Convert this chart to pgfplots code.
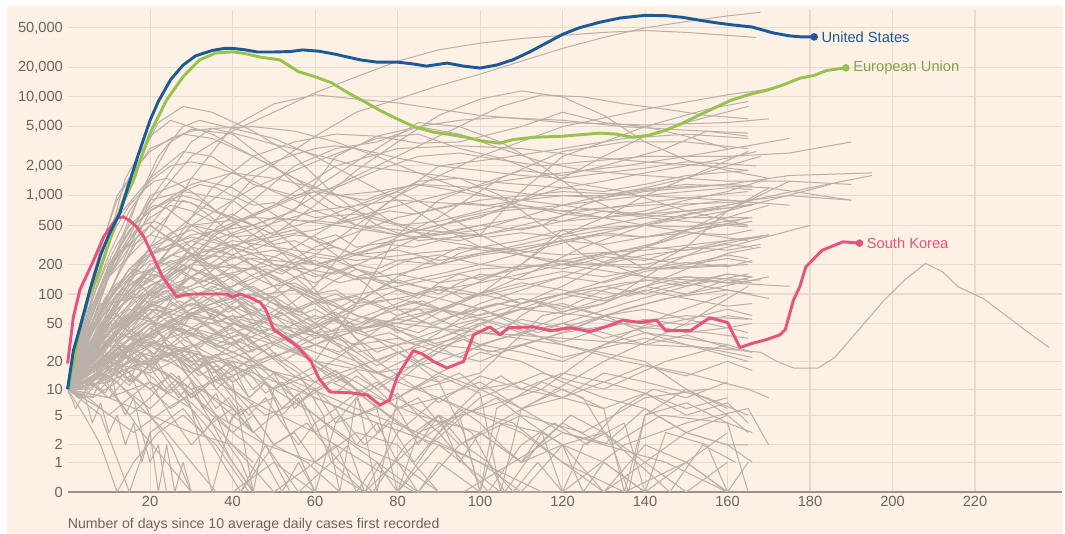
\documentclass[border=0pt]{standalone}
\usepackage{pgfplots}
\pgfplotsset{compat=1.18}
\usepackage{fontspec}
\setmainfont{Liberation Sans}
\definecolor{cream}{HTML}{FDF0E5}
\definecolor{gridc}{HTML}{E8DACE}
\definecolor{grayl}{HTML}{B9B0A9}
\definecolor{usblue}{HTML}{1C5A96}
\definecolor{eugreen}{HTML}{98C24E}
\definecolor{skpink}{HTML}{E8527E}
\definecolor{ticktxt}{HTML}{6B6560}
\definecolor{axisc}{HTML}{9A928C}
\pgfplotsset{gl/.style={color=grayl, line width=0.75pt, no markers, line join=round}}
\begin{document}
\begin{tikzpicture}[x=1pt,y=1pt]
\fill[white] (0,0) rectangle (798.75,399.75);
\fill[cream] (5.25,0) rectangle (797,395.25);
\begin{axis}[
  at={(50.7pt,30.75pt)}, anchor=south west,
  scale only axis, width=745.5pt, height=361.5pt,
  xmin=0, xmax=241, ymin=0, ymax=4.88,
  y filter/.expression={ln(y+1)*0.4342944819},
  axis x line*=bottom, axis y line*=left,
  x axis line style={draw=axisc, line width=1.1pt, -},
  y axis line style={draw=none},
  major tick length=0pt,
  xtick={20,40,...,220},
  ytick={0,0.30103,0.47712,0.77815,1.04139,1.32222,1.70757,2.00432,2.30320,2.69984,3.00043,3.30125,3.69906,4.00004,4.30105,4.69898},
  yticklabels={0,1,2,5,10,20,50,100,200,500,{1,000},{2,000},{5,000},{10,000},{20,000},{50,000}},
  /pgf/number format/assume math mode=true,
  tick label style={font=\fontsize{11}{13}\selectfont, text=ticktxt},
  xmajorgrids, ymajorgrids,
  major grid style={draw=gridc, line width=0.8pt},
  clip=false,
]
% ---- grey country lines ----
\addplot[gl] coordinates {(0,10)(10,150)(20,800)(30,2500)(40,4500)(50,7000)(60,11000)(70,16000)(80,23000)(90,30000)(100,35000)(110,39000)(120,42000)(130,45000)(140,47000)(150,45000)(160,42000)(167,40000)};
\addplot[gl] coordinates {(0,10)(15,60)(30,300)(45,1500)(60,4000)(70,7000)(80,9500)(90,13000)(100,17000)(110,23000)(120,31000)(130,40000)(140,50000)(150,58000)(160,66000)(168,72000)};
\addplot[gl] coordinates {(0,10)(10,60)(20,300)(30,1500)(40,5000)(50,8500)(60,10500)(70,9500)(80,8700)(90,7500)(100,6500)(110,6000)(120,5500)(140,5200)(160,5500)(170,6000)};
\addplot[gl] coordinates {(0,10)(10,100)(20,900)(30,3500)(35,4800)(45,5000)(55,4500)(65,3500)(75,2500)(85,1700)(95,1200)(110,800)(120,650)(130,600)(140,700)(150,900)(160,1100)(170,1500)};
\addplot[gl] coordinates {(0,12)(8,100)(15,600)(22,2500)(28,5000)(32,5800)(40,4800)(50,3800)(60,2500)(70,1500)(80,900)(90,500)(100,300)(110,250)(120,200)(130,250)(145,350)(160,700)(175,1400)(190,1300)};
\addplot[gl] coordinates {(0,10)(8,200)(15,1500)(22,5500)(28,8000)(35,7000)(45,4500)(55,2500)(65,1000)(75,500)(85,350)(100,400)(110,1100)(120,2500)(130,3500)(140,5000)(155,7500)(165,9000)};
\addplot[gl] coordinates {(0,10)(7,120)(14,1500)(20,4000)(25,5800)(35,4200)(45,2500)(55,1500)(65,800)(75,600)(85,450)(100,400)(115,500)(125,800)(135,1100)(150,1300)(170,1200)(190,900)};
\addplot[gl] coordinates {(0,10)(10,150)(17,900)(25,3500)(30,4700)(40,4200)(50,2000)(60,900)(70,500)(80,400)(90,500)(100,600)(110,900)(120,1500)(130,2500)(140,4000)(150,5500)(165,8000)};
\addplot[gl] coordinates {(0,10)(5,80)(12,600)(20,1500)(28,2800)(35,2500)(45,1300)(55,1000)(65,1200)(75,1800)(85,2500)(95,2700)(105,2300)(115,2000)(125,2200)(140,2500)(160,2500)(175,2700)(190,3500)};
\addplot[gl] coordinates {(0,10)(15,40)(30,300)(45,900)(55,2000)(65,3000)(75,3500)(85,5000)(95,5800)(105,6200)(120,5800)(135,5000)(150,4600)(165,4300)};
\addplot[gl] coordinates {(0,10)(15,80)(25,300)(35,1200)(45,2500)(55,3500)(65,4200)(75,4000)(85,3400)(95,3500)(110,5000)(120,7000)(130,5500)(140,5000)(150,4000)(160,3000)};
\addplot[gl] coordinates {(0,10)(15,40)(30,150)(45,400)(60,1000)(75,2000)(90,4000)(105,8000)(115,10500)(125,10000)(135,8500)(145,7500)(155,6500)(165,6000)};
\addplot[gl] coordinates {(0,10)(10,80)(20,100)(30,120)(40,250)(50,400)(60,800)(70,1800)(80,3500)(90,6500)(100,9500)(110,11500)(120,10000)(130,6500)(140,3500)(150,2300)(160,1800)(170,1500)};
\addplot[gl] coordinates {(0,10)(20,80)(40,120)(60,250)(80,1000)(100,2500)(120,5000)(140,7500)(160,10500)(170,12000)};
\addplot[gl] coordinates {(0,10)(10,100)(20,250)(30,400)(45,500)(55,700)(65,2500)(75,4000)(85,5000)(95,4200)(105,3000)(115,2200)(125,1800)(140,1600)(160,1400)(175,1400)};
\addplot[gl] coordinates {(0,10)(6,150)(12,1000)(20,3000)(28,4200)(35,3800)(45,2500)(55,1500)(65,1000)(75,1100)(85,1300)(100,1200)(115,1000)(130,1000)(145,1200)(160,1300)(175,1600)(195,1700)};
\addplot[gl] coordinates {(0,10)(10,100)(20,700)(30,1300)(40,1700)(50,1500)(60,1200)(70,900)(80,500)(90,350)(100,300)(110,350)(120,450)(140,500)(160,800)(180,1200)(195,1600)};
\addplot[gl] coordinates {(0,10)(10,150)(20,1000)(30,1500)(40,1200)(50,650)(60,350)(70,180)(80,110)(90,90)(110,200)(120,450)(130,300)(140,180)(150,300)(160,700)(170,1200)};
\addplot[gl] coordinates {(0,10)(10,200)(20,900)(28,1100)(40,900)(50,450)(60,200)(70,150)(80,70)(90,70)(100,100)(110,200)(120,400)(130,600)(140,1000)(150,1500)(165,2800)};
\addplot[gl] coordinates {(0,10)(15,100)(30,500)(45,1200)(60,2200)(75,3800)(85,4200)(95,3000)(105,2400)(120,1400)(135,1100)(150,700)(165,500)};
\addplot[gl] coordinates {(0,10)(15,120)(30,350)(45,650)(60,1200)(75,3000)(85,5500)(95,5000)(105,3500)(115,2000)(125,1000)(135,650)(150,600)(165,600)};
\addplot[gl] coordinates {(0,10)(20,40)(35,400)(50,800)(65,2000)(80,3000)(95,3200)(110,3000)(125,2500)(140,2200)(155,2000)(165,1800)};
\addplot[gl] coordinates {(0,10)(15,100)(30,250)(45,350)(60,450)(75,700)(90,1000)(105,1400)(120,1700)(135,2000)(150,2500)(165,3200)(175,3800)};
\addplot[gl] coordinates {(0,10)(15,150)(30,250)(45,230)(60,200)(75,300)(90,600)(105,1500)(120,2800)(135,3500)(150,3500)(165,3000)};
\addplot[gl] coordinates {(0,10)(10,200)(20,500)(30,250)(40,100)(50,30)(60,20)(70,80)(80,400)(90,900)(100,1300)(110,1800)(120,1600)(130,2000)(145,3000)(155,4500)(165,4000)};
\addplot[gl] coordinates {(0,10)(15,100)(30,500)(45,600)(60,550)(70,800)(80,1100)(90,700)(100,400)(110,250)(120,200)(140,200)(160,300)(180,500)};
\addplot[gl] coordinates {(0,10)(10,150)(20,400)(28,900)(35,700)(45,500)(55,200)(65,60)(75,20)(85,10)(100,15)(115,60)(130,80)(145,200)(155,300)(170,400)};
\addplot[gl] coordinates {(0,10)(20,50)(40,150)(55,300)(70,700)(85,1400)(95,1500)(105,1000)(115,500)(125,250)(140,150)(160,130)(175,120)};
\addplot[gl] coordinates {(0,10)(20,50)(40,30)(60,120)(75,700)(90,2000)(105,2400)(120,3000)(135,3800)(150,4200)(165,3800)};
\addplot[gl] coordinates {(0,10)(10,60)(20,200)(30,300)(40,250)(55,120)(70,60)(85,40)(100,80)(120,150)(140,300)(165,600)};
\addplot[gl] coordinates {(0,10)(10,30)(20,100)(35,350)(50,600)(65,500)(80,400)(95,350)(110,500)(125,700)(145,900)(165,1100)};
\addplot[gl] coordinates {(0,10)(8,50)(18,150)(30,90)(45,40)(60,20)(75,15)(90,30)(105,60)(120,100)(140,180)(160,200)};
\addplot[gl] coordinates {(0,10)(12,80)(25,200)(40,350)(55,280)(70,220)(85,260)(100,300)(120,250)(140,280)(160,350)(170,400)};
\addplot[gl] coordinates {(0,10)(5,40)(15,180)(25,140)(35,60)(45,20)(55,8)(65,3)(75,1)(85,0)(95,2)(110,5)(125,3)(140,8)(155,10)};
\addplot[gl] coordinates {(0,10)(10,70)(20,300)(30,450)(40,300)(50,120)(60,50)(70,20)(80,8)(90,4)(100,6)(115,10)(130,30)(145,60)(160,100)};
\addplot[gl] coordinates {(0,10)(15,20)(30,60)(45,100)(60,180)(75,350)(90,500)(105,700)(120,800)(140,600)(160,500)(165,480)};
\addplot[gl] coordinates {(0,10)(10,35)(20,80)(35,150)(50,200)(65,160)(80,300)(95,600)(110,800)(125,650)(140,500)(155,400)(165,350)};
\addplot[gl] coordinates {(0,10)(5,50)(12,250)(20,500)(28,300)(38,120)(50,50)(60,20)(70,10)(85,5)(100,3)(115,8)(130,20)(150,50)(165,120)};
\addplot[gl] coordinates {(0,10)(20,40)(40,100)(60,300)(80,600)(100,900)(120,1100)(140,1000)(160,900)(175,800)};
\addplot[gl] coordinates {(0,10)(10,50)(20,120)(30,200)(45,180)(60,90)(75,50)(90,30)(105,25)(120,40)(135,70)(150,100)(170,150)};
\addplot[gl] coordinates {(0,10)(8,30)(20,70)(35,50)(50,30)(65,60)(80,150)(95,300)(110,250)(125,200)(145,180)(165,200)};
\addplot[gl] coordinates {(0,10)(12,100)(25,250)(35,200)(50,80)(65,40)(80,50)(95,80)(110,150)(125,300)(140,500)(160,700)(185,1300)};
\addplot[gl] coordinates {(0,10)(20,100)(40,400)(60,700)(80,900)(100,800)(120,700)(140,800)(160,850)(175,1000)(190,900)};
\addplot[gl] coordinates {(0,10)(5,20)(10,30)(15,15)(20,5)(25,2)(30,0)(40,0)(50,1)(60,0)};
\addplot[gl] coordinates {(0,10)(8,15)(15,30)(22,40)(30,20)(38,8)(45,3)};
\addplot[gl] coordinates {(0,10)(5,25)(12,50)(20,70)(28,40)(36,15)(44,6)(50,2)(58,1)(66,0)(80,0)(90,3)(100,8)(115,15)(130,10)(145,20)(160,30)};
\addplot[gl] coordinates {(0,9)(6,12)(12,20)(18,35)(26,50)(34,30)(42,20)(50,10)(60,5)(70,2)(80,1)(90,0)};
\addplot[gl] coordinates {(0,10)(4,5)(8,2)(12,0)(16,1)(22,3)(28,5)(36,2)(44,0)};
\addplot[gl] coordinates {(0,10)(10,20)(20,40)(30,70)(40,90)(50,60)(60,40)(70,25)(80,30)(95,50)(110,70)(125,60)(140,45)(155,40)(165,35)};
\addplot[gl] coordinates {(0,10)(10,15)(20,25)(30,15)(40,30)(50,45)(60,30)(70,20)(80,12)(90,8)(100,5)(110,3)(120,1)(130,0)(140,2)(150,1)(160,0)};
\addplot[gl] coordinates {(0,11)(5,30)(10,60)(15,40)(20,25)(25,12)(30,6)(35,3)(40,1)(45,0)};
\addplot[gl] coordinates {(0,10)(15,30)(30,60)(45,45)(60,25)(75,15)(90,20)(105,35)(120,50)(135,80)(150,120)(165,160)};
\addplot[gl] coordinates {(0,10)(8,20)(16,12)(24,30)(32,25)(40,10)(48,5)(56,7)(64,12)(72,8)(80,4)(88,2)(96,5)(104,8)(112,4)(120,2)(130,3)(140,1)(150,0)(160,1)};
\addplot[gl] coordinates {(0,10)(6,8)(12,12)(18,6)(24,3)(30,1)(36,0)(42,0)(48,2)(54,0)};
\addplot[gl] coordinates {(0,10)(10,40)(20,100)(30,150)(40,110)(50,70)(60,40)(70,30)(80,35)(90,25)(100,20)(110,30)(120,40)(135,50)(150,60)(165,55)};
\addplot[gl] coordinates {(0,10)(10,25)(20,18)(30,10)(40,14)(50,22)(60,35)(70,55)(80,80)(90,120)(100,100)(110,80)(120,100)(135,130)(150,150)(165,140)};
\addplot[gl] coordinates {(0,10)(12,40)(24,25)(36,12)(48,6)(60,3)(72,1)(84,0)(96,0)(108,1)(120,3)(132,2)(144,5)(160,4)(166,3)};
\addplot[gl] coordinates {(0,10)(5,18)(10,10)(15,5)(20,8)(25,15)(30,10)(35,4)(40,1)(45,0)(50,0)};
\addplot[gl] coordinates {(0,10)(20,30)(40,20)(60,12)(80,25)(100,40)(120,30)(140,20)(150,10)(160,5)(165,3)};
\addplot[gl] coordinates {(0,10)(10,30)(20,55)(30,80)(40,55)(50,35)(60,20)(70,12)(80,6)(90,8)(100,12)(110,6)(120,3)(130,2)(145,1)(160,0)};
\addplot[gl] coordinates {(0,10)(6,20)(12,8)(18,3)(24,1)(30,0)};
\addplot[gl] coordinates {(0,10)(10,12)(20,20)(30,30)(40,18)(50,10)(60,15)(70,30)(80,60)(90,90)(100,70)(110,50)(120,40)(130,60)(145,90)(160,110)(166,100)};
\addplot[gl] coordinates {(0,10)(15,35)(30,25)(45,15)(60,8)(75,4)(90,2)(105,0)(120,0)(135,2)(150,4)(165,6)(170,2)};
\addplot[gl] coordinates {(0,10)(5,15)(10,20)(15,12)(20,18)(25,25)(30,15)(35,8)(40,5)(45,3)};
\addplot[gl] coordinates {(0,10)(10,50)(20,35)(30,20)(40,25)(50,40)(60,60)(70,45)(80,25)(90,15)(100,10)(110,6)(120,8)(130,15)(140,12)(155,8)(165,5)};
\addplot[gl] coordinates {(0,10)(8,6)(16,3)(24,6)(32,10)(40,6)(48,2)(56,0)(64,1)(72,0)};
\addplot[gl] coordinates {(0,10)(12,25)(24,15)(36,5)(48,2)(60,1)(72,0)(84,2)(96,6)(108,4)(120,1)(135,0)(150,1)(160,3)};
\addplot[gl] coordinates {(0,10)(10,20)(25,45)(40,25)(55,12)(70,6)(85,3)(100,1)(115,0)};
\addplot[gl] coordinates {(0,10)(5,30)(10,45)(15,25)(20,12)(25,5)(30,2)(35,4)(40,2)(45,1)};
\addplot[gl] coordinates {(0,10)(20,20)(40,40)(60,80)(80,120)(100,180)(120,200)(140,150)(160,110)(170,90)};
\addplot[gl] coordinates {(0,10)(15,60)(30,40)(45,20)(60,30)(75,50)(90,70)(105,50)(120,30)(135,20)(150,15)(165,10)(170,8)};
\addplot[gl] coordinates {(0,10)(10,8)(20,5)(30,3)(40,2)(50,0)(60,1)(70,3)(80,2)(90,0)};
\addplot[gl] coordinates {(0,10)(8,25)(16,60)(24,90)(32,120)(40,90)(48,50)(56,30)};
\addplot[gl] coordinates {(0,10)(10,40)(20,80)(30,60)(40,30)(50,15)(60,8)(70,5)(80,8)(90,15)(100,25)(110,20)(120,12)(130,8)(140,6)(150,3)(160,2)(165,2)};
\addplot[gl] coordinates {(0,10)(10,100)(20,250)(30,350)(40,250)(50,150)(60,80)(70,40)(80,30)(90,35)(100,50)(110,70)(120,80)(130,60)(140,40)(150,30)(165,20)};
\addplot[gl] coordinates {(0,10)(20,30)(40,60)(60,40)(80,50)(100,40)(120,35)(140,30)(155,28)(168,25)(172,20)(176,17)(182,17)(186,22)(190,35)(194,55)(198,87)(203,140)(208,205)(212,170)(216,118)(222,90)(228,58)(233,40)(238,28)};
\addplot[gl] coordinates {(0,10)(3,14)(6,22)(9,35)(12,48)(15,60)(18,55)(21,70)(24,65)(27,50)(30,45)(33,52)(36,40)(39,35)(42,38)(45,30)};
\addplot[gl] coordinates {(0,10)(3,18)(6,30)(9,25)(12,40)(15,35)(18,28)(21,33)(24,22)(27,26)(30,18)(33,22)(36,15)(39,20)(42,14)(45,17)};
\addplot[gl] coordinates {(0,10)(4,25)(8,45)(12,80)(16,120)(20,180)(24,150)(28,200)(32,170)(36,140)(40,160)(44,120)(48,100)(55,110)(62,80)(70,95)(78,70)(86,85)(94,60)(102,75)(110,90)(120,70)(130,110)(140,140)(150,120)(160,160)(165,150)};
\addplot[gl] coordinates {(0,10)(3,12)(6,8)(9,15)(12,20)(15,12)(18,25)(21,18)(24,30)(27,22)(30,15)(33,20)(36,10)(40,14)(44,8)(48,12)(52,6)(56,9)(60,4)(65,6)(70,2)(75,4)(80,1)(85,0)(90,1)(100,0)};
\addplot[gl] coordinates {(0,10)(5,40)(10,90)(15,160)(20,300)(25,420)(30,500)(35,450)(40,380)(45,400)(50,320)(55,350)(60,280)(65,300)(70,250)(80,280)(90,220)(100,260)(110,300)(120,350)(130,420)(140,380)(150,450)(160,520)(165,500)};
\addplot[gl] coordinates {(0,10)(4,30)(8,70)(12,150)(16,300)(20,500)(24,800)(28,1100)(32,1300)(36,1200)(40,1000)(45,800)(50,850)(55,700)(60,600)(70,650)(80,500)(90,550)(100,700)(110,900)(120,1200)(130,1100)(140,1300)(150,1600)(165,1800)};
\addplot[gl] coordinates {(0,10)(5,20)(10,12)(15,30)(20,20)(25,40)(30,25)(35,15)(40,20)(45,10)(50,15)(55,6)(60,10)(65,4)(70,8)(75,3)(80,6)(85,2)(90,5)(95,1)(100,3)(110,1)(120,4)(130,2)(140,6)(150,3)(160,5)};
\addplot[gl] coordinates {(0,10)(3,20)(6,40)(9,70)(12,100)(15,140)(18,120)(21,90)(24,110)(27,80)(30,60)(33,70)(36,50)(40,60)(45,40)(50,45)(55,30)(60,40)(65,55)(70,70)(75,90)(80,110)(85,90)(90,130)(95,160)(100,140)(110,200)(120,180)(130,240)(140,220)(150,300)(160,280)(168,320)};
\addplot[gl] coordinates {(0,10)(5,60)(10,200)(15,450)(20,700)(25,900)(30,850)(35,600)(40,400)(45,300)(50,200)(55,150)(60,100)(65,80)(70,60)(80,50)(90,70)(100,60)(110,80)(120,120)(130,200)(140,300)(150,450)(160,600)(170,800)};
\addplot[gl] coordinates {(0,10)(2,6)(4,9)(6,4)(8,7)(10,3)(12,5)(14,2)(16,4)(18,1)(20,3)(22,0)(24,2)(26,0)(28,1)(30,0)};
\addplot[gl] coordinates {(0,10)(4,15)(8,25)(12,18)(16,30)(20,45)(24,35)(28,55)(32,70)(36,60)(40,80)(44,100)(48,90)(52,120)(56,150)(60,130)(65,170)(70,200)(75,180)(80,220)(90,250)(100,200)(110,180)(120,220)(130,260)(140,230)(150,200)(160,250)(165,230)};
\addplot[gl] coordinates {(0,10)(4,35)(8,80)(12,60)(16,40)(20,55)(24,30)(28,20)(32,25)(36,12)(40,18)(44,8)(48,12)(52,5)(56,8)(60,3)(66,5)(72,2)(78,4)(84,1)(90,3)(96,1)(102,0)(110,2)(118,4)(126,2)(134,6)(142,10)(150,8)(160,12)};
\addplot[gl] coordinates {(0,10)(5,15)(10,25)(15,50)(20,90)(25,130)(30,200)(35,250)(40,320)(45,280)(50,350)(55,400)(60,380)(65,300)(70,250)(75,300)(80,350)(90,400)(100,500)(110,450)(120,550)(130,600)(140,650)(150,700)(160,750)(166,800)};
\addplot[gl] coordinates {(0,10)(3,25)(6,50)(9,90)(12,130)(15,100)(18,70)(21,50)(24,30)(27,20)(30,12)(33,8)(36,5)(40,3)(44,2)(48,1)(52,0)(56,1)(60,0)};
\addplot[gl] coordinates {(0,10)(4,20)(8,28)(12,40)(16,35)(20,50)(24,45)(28,35)(32,40)(36,28)(40,32)(44,25)(48,30)(52,20)(56,25)(60,30)(66,25)(72,35)(78,40)(84,30)(90,35)(96,45)(102,40)(110,55)(120,45)(130,60)(140,50)(150,40)(160,45)(165,40)};
\addplot[gl] coordinates {(0,10)(5,50)(10,150)(15,300)(20,400)(25,350)(30,250)(35,180)(40,200)(45,150)(50,120)(55,130)(60,100)(65,110)(70,80)(80,90)(90,70)(100,100)(110,130)(120,110)(130,90)(140,120)(150,150)(160,130)(168,140)};
\addplot[gl] coordinates {(0,10)(3,8)(6,12)(9,18)(12,14)(15,22)(18,30)(21,24)(24,35)(27,45)(30,38)(33,50)(36,42)(39,30)(42,35)(45,25)};
\addplot[gl] coordinates {(0,10)(3,15)(6,12)(9,20)(12,28)(15,22)(18,15)(21,20)(24,12)(27,8)(30,12)(33,6)(36,9)(39,4)(42,6)(45,3)};
\addplot[gl] coordinates {(0,10)(5,70)(10,250)(15,700)(20,1400)(25,2000)(30,2200)(35,2000)(40,1700)(45,1400)(50,1100)(55,900)(60,700)(65,600)(70,500)(80,450)(90,400)(100,450)(110,600)(120,800)(130,1000)(140,1200)(150,1500)(160,2000)(168,2500)};
\addplot[gl] coordinates {(0,10)(4,20)(8,45)(12,70)(16,100)(20,90)(24,130)(28,110)(32,80)(36,100)(40,70)(44,85)(48,55)(52,65)(56,45)(60,35)(65,40)(70,28)(75,20)(80,25)(85,18)(90,12)(95,15)(100,10)(110,12)(120,8)(130,6)(140,9)(150,5)(160,7)(165,4)};
\addplot[gl] coordinates {(0,10)(5,25)(10,40)(15,60)(20,85)(25,110)(30,150)(35,190)(40,230)(45,260)(50,240)(55,200)(60,220)(65,180)(70,150)(75,170)(80,130)(90,110)(100,130)(110,160)(120,200)(130,260)(140,300)(150,280)(160,350)(168,380)};
\addplot[gl] coordinates {(0,10)(6,20)(12,45)(18,90)(24,160)(30,250)(36,400)(42,550)(48,700)(54,900)(60,1100)(66,1000)(72,900)(78,1100)(84,1300)(90,1200)(100,1000)(110,900)(120,800)(130,900)(140,1000)(150,1100)(160,1200)(166,1150)};
\addplot[gl] coordinates {(0,10)(2,15)(4,25)(6,20)(8,12)(10,18)(12,8)(14,5)(16,8)(18,3)(20,1)(22,2)(24,0)};
\addplot[gl] coordinates {(0,10)(3,20)(6,35)(9,45)(12,30)(15,20)(18,25)(21,15)(24,10)(27,14)(30,6)(33,3)(36,5)(39,2)(42,1)(45,0)};
\addplot[gl] coordinates {(0,10)(5,30)(10,60)(15,110)(20,170)(25,220)(30,180)(35,140)(40,100)(45,120)(50,90)(55,60)(60,45)(65,55)(70,35)(75,25)(80,30)(85,20)(90,25)(95,35)(100,50)(105,40)(110,60)(115,80)(120,65)(130,90)(140,120)(150,100)(160,140)(166,130)};
\addplot[gl] coordinates {(0,10)(4,12)(8,10)(12,16)(16,22)(20,18)(24,26)(28,34)(32,28)(36,40)(40,50)(44,42)(48,60)(52,75)(56,65)(60,85)(65,100)(70,80)(75,110)(80,140)(85,120)(90,100)(95,130)(100,160)(110,140)(120,170)(130,150)(140,180)(150,210)(160,190)(166,220)};
\addplot[gl] coordinates {(0,10)(4,40)(8,120)(12,280)(16,500)(20,700)(24,900)(28,1000)(32,900)(36,700)(40,600)(45,500)(50,400)(55,450)(60,350)(65,300)(70,250)(80,220)(90,200)(100,250)(110,280)(120,350)(130,400)(140,380)(150,450)(160,500)(166,550)};
\addplot[gl] coordinates {(0,10)(5,8)(10,5)(15,8)(20,12)(25,9)(30,15)(35,20)(40,14)(45,18)(50,25)(55,18)(60,12)(65,16)(70,10)(75,6)(80,9)(85,5)(90,3)(95,6)(100,4)(105,2)(110,1)(115,3)(120,2)(125,0)(130,1)(140,0)};
\addplot[gl] coordinates {(0,10)(5,20)(10,35)(15,28)(20,45)(25,60)(30,80)(35,70)(40,55)(45,65)(50,50)(55,40)(60,50)(65,70)(70,90)(75,75)(80,60)(85,70)(90,55)(95,45)(100,55)(110,40)(120,50)(130,35)(140,45)(150,55)(160,70)(166,60)};
\addplot[gl] coordinates {(0,10)(3,30)(6,70)(9,140)(12,250)(15,380)(18,500)(21,550)(24,480)(27,380)(30,300)(33,220)(36,180)(40,140)(44,110)(48,90)(52,70)(56,55)(60,40)(65,30)(70,22)(75,15)(80,12)(85,18)(90,25)(95,35)(100,30)(110,40)(120,60)(130,80)(140,120)(150,180)(160,260)(168,300)};
\addplot[gl] coordinates {(0,10)(5,12)(10,20)(15,15)(20,10)(25,14)(30,8)(35,12)(40,16)(45,22)(50,30)(55,38)(60,45)(65,55)(70,48)(75,60)(80,70)(85,55)(90,45)(95,38)(100,30)(110,25)(120,20)(130,30)(140,40)(150,35)(160,30)(166,25)};
\addplot[gl] coordinates {(0,10)(4,15)(8,25)(12,40)(16,55)(20,75)(24,90)(28,70)(32,55)(36,60)(40,45)(44,35)(48,25)};
\addplot[gl] coordinates {(0,10)(4,20)(8,15)(12,25)(16,40)(20,30)(24,22)(28,28)(32,18)(36,24)(40,16)(44,20)(48,12)};
\addplot[gl] coordinates {(0,10)(4,60)(8,300)(12,900)(16,1800)(20,2800)(25,3800)(30,4500)(35,4800)(40,4300)(45,3800)(50,3300)(55,3000)(60,2600)(65,2300)(70,2000)(80,1800)(90,1600)(100,1400)(110,1300)(120,1200)(130,1400)(140,1700)(150,2000)(160,2400)(167,2800)};
\addplot[gl] coordinates {(0,10)(5,25)(10,60)(15,130)(20,250)(25,400)(30,600)(35,900)(40,1300)(45,1800)(50,2200)(55,2600)(60,3000)(65,3200)(70,3000)(75,2700)(80,2400)(90,2000)(100,1800)(110,1600)(120,1500)(130,1700)(140,1900)(150,2200)(160,2100)(167,2000)};
\addplot[gl] coordinates {(0,10)(6,40)(12,100)(18,90)(24,60)(30,45)(36,30)(42,40)(48,25)(54,15)(60,10)(66,14)(72,8)(78,5)(84,3)(90,5)(96,2)(102,1)(108,0)(114,1)(120,0)};
\addplot[gl] coordinates {(0,10)(8,12)(16,18)(24,25)(32,18)(40,22)(48,30)(56,40)(64,35)(72,45)(80,55)(88,50)(96,65)(104,80)(112,70)(120,90)(128,110)(136,95)(144,120)(152,140)(160,130)(166,150)};
\addplot[gl] coordinates {(0,10)(6,25)(12,20)(18,35)(24,28)(30,45)(36,38)(42,55)(48,45)(54,35)(60,45)(66,60)(72,50)(78,70)(84,85)(90,70)(96,55)(102,65)(108,50)(114,40)(120,50)(130,40)(140,30)(150,38)(160,28)(166,25)};
\addplot[gl] coordinates {(0,10)(5,10)(10,14)(15,9)(20,6)(25,10)(30,7)(35,4)(40,6)(45,3)(50,5)(55,8)(60,12)(65,9)(70,14)(75,10)(80,6)(85,8)(90,4)(95,2)(100,3)(110,1)(120,2)(130,0)(140,1)(150,3)(160,2)(166,1)};
\addplot[gl] coordinates {(0,10)(5,35)(10,90)(15,180)(20,260)(25,320)(30,380)(35,340)(40,300)(45,260)(50,280)(55,240)(60,200)(65,220)(70,180)(75,150)(80,160)(90,130)(100,150)(110,180)(120,220)(130,200)(140,250)(150,280)(160,320)(166,300)};
\addplot[gl] coordinates {(0,10)(10,8)(20,12)(30,6)(35,0)(40,5)(50,8)(55,2)(60,0)(65,4)(75,6)(80,0)(85,3)(95,5)(100,0)(105,4)(115,3)(120,0)(125,2)(135,4)(140,0)(145,3)(155,2)(160,0)(165,1)};
\addplot[gl] coordinates {(0,10)(10,20)(20,15)(30,25)(40,12)(45,0)(50,10)(60,18)(70,10)(75,0)(80,8)(90,14)(100,9)(105,0)(110,6)(120,10)(130,6)(135,0)(140,5)(150,7)(160,4)(165,0)};
\addplot[gl] coordinates {(0,10)(8,5)(15,0)(20,3)(28,6)(35,2)(42,0)(50,2)(58,4)(66,1)(74,0)(82,2)(90,5)(98,3)(106,0)(114,2)(122,5)(130,3)(138,1)(146,0)(154,2)(162,1)};
\addplot[gl] coordinates {(0,10)(12,30)(24,20)(36,40)(48,25)(56,15)(62,5)(66,0)(70,8)(80,15)(90,12)(96,3)(100,0)(104,6)(115,12)(125,8)(132,2)(136,0)(140,5)(150,10)(160,6)};
\addplot[gl] coordinates {(0,10)(3,15)(6,28)(9,45)(12,70)(15,90)(18,130)(21,160)(24,140)(27,180)(30,150)(33,120)(36,140)(39,110)(42,90)(45,100)(50,80)(55,70)(60,85)(65,60)(70,75)(80,90)(90,110)(100,95)(110,120)(120,150)(130,130)(140,170)(150,200)(160,230)(166,210)};
\addplot[gl] coordinates {(0,10)(3,22)(6,45)(9,80)(12,120)(15,180)(18,240)(21,300)(24,280)(27,320)(30,260)(33,220)(36,250)(39,200)(42,170)(45,190)};
\addplot[gl] coordinates {(0,10)(4,18)(8,30)(12,50)(16,70)(20,100)(24,85)(28,120)(32,100)(36,80)(40,95)(44,70)(48,60)};
\addplot[gl] coordinates {(0,10)(3,12)(6,18)(9,25)(12,20)(15,30)(18,40)(21,35)(24,50)(27,42)(30,60)(33,50)(36,70)(39,55)(42,45)(45,50)};
\addplot[gl] coordinates {(0,10)(5,15)(10,22)(15,35)(20,50)(25,45)(30,65)(35,55)(40,75)(45,60)(50,90)(55,120)(60,100)(65,140)(70,180)(75,160)(80,200)(85,240)(90,200)(95,260)(100,300)(110,280)(120,350)(130,320)(140,380)(150,420)(160,400)(166,450)};
\addplot[gl] coordinates {(0,10)(4,10)(8,15)(12,12)(16,20)(20,16)(24,25)(28,20)(32,14)(36,18)(40,12)(44,15)(48,9)(52,12)(56,7)(60,10)(65,6)(70,9)(75,12)(80,8)(85,11)(90,7)(95,10)(100,14)(110,10)(120,15)(130,12)(140,18)(150,14)(160,20)(166,16)};
\addplot[gl] coordinates {(0,10)(3,35)(6,90)(9,180)(12,320)(15,500)(18,650)(21,800)(24,750)(27,600)(30,500)(33,420)(36,380)(40,300)(45,250)(50,200)(55,180)(60,150)(65,170)(70,140)(80,160)(90,200)(100,260)(110,320)(120,400)(130,500)(140,600)(150,700)(160,800)(166,900)};
\addplot[gl] coordinates {(0,10)(5,18)(10,30)(15,25)(20,40)(25,55)(30,45)(35,35)(40,45)(45,30)(50,22)(55,28)(60,18)(65,12)(70,16)(75,10)(80,14)(85,20)(90,28)(95,22)(100,30)(110,40)(120,32)(130,45)(140,55)(150,48)(160,60)(166,55)};
\addplot[gl] coordinates {(0,10)(4,30)(8,65)(12,110)(16,160)(20,220)(24,200)(28,160)(32,130)(36,150)(40,110)(44,90)(48,100)(52,75)(56,60)(60,70)(66,50)(72,40)(78,48)(84,35)(90,28)(96,34)(102,25)(110,30)(120,22)(130,28)(140,35)(150,30)(160,25)(166,22)};
\addplot[gl] coordinates {(0,10)(3,10)(6,12)(9,9)(12,14)(15,11)(18,16)(21,13)(24,9)(27,12)(30,8)(33,10)(36,6)(39,8)(42,5)(45,7)};
\addplot[gl] coordinates {(0,10)(6,30)(12,70)(18,110)(24,150)(30,200)(36,260)(42,330)(48,400)(54,480)(60,560)(66,520)(72,600)(78,700)(84,650)(90,750)(96,850)(102,800)(110,900)(120,1000)(130,950)(140,1100)(150,1200)(160,1300)(166,1250)};
\addplot[gl] coordinates {(0,10)(5,22)(10,40)(15,70)(20,55)(25,80)(30,60)(35,90)(40,70)(45,50)(50,60)(55,40)(60,30)(65,38)(70,25)(75,18)(80,24)(85,30)(90,40)(95,55)(100,70)(105,60)(110,80)(120,100)(130,85)(140,110)(150,90)(160,75)(166,80)};
\addplot[gl] coordinates {(0,10)(4,14)(8,20)(12,30)(16,25)(20,18)(24,24)(28,16)(32,10)(36,14)(40,8)(44,5)(48,8)(52,4)(56,2)(60,4)(64,1)(68,2)(72,0)(76,1)(80,3)(85,5)(90,8)(95,6)(100,10)(105,14)(110,10)(120,8)(130,12)(140,9)(150,6)(160,8)};
\addplot[gl] coordinates {(0,10)(3,40)(6,120)(9,260)(12,500)(15,800)(18,1100)(21,1400)(24,1500)(27,1300)(30,1100)(33,900)(36,700)(40,550)(45,400)(50,300)(55,250)(60,200)(65,180)(70,150)(80,130)(90,160)(100,200)(110,260)(120,330)(130,420)(140,520)(150,650)(160,750)(166,820)};
\addplot[gl] coordinates {(0,10)(5,40)(10,70)(15,50)(20,80)(25,65)(30,90)(35,120)(40,100)(45,80)(50,95)(55,70)(60,55)(65,65)(70,45)(75,55)(80,40)(85,50)(90,65)(95,80)(100,70)(110,90)(120,75)(130,60)(140,70)(150,55)(160,45)(166,50)};
\addplot[gl] coordinates {(0,10)(4,8)(8,13)(12,18)(16,26)(20,35)(24,48)(28,62)(32,80)(36,100)(40,120)(44,150)(48,180)(52,160)(56,200)(60,240)(66,220)(72,270)(78,320)(84,300)(90,350)(96,400)(102,380)(110,420)(120,380)(130,450)(140,500)(150,480)(160,550)(166,600)};
\addplot[gl] coordinates {(0,10)(5,12)(10,8)(15,14)(20,10)(25,6)(30,9)(35,5)(40,3)(45,5)(50,2)(55,3)(60,1)(65,2)(70,0)(75,1)(80,0)(90,2)(100,1)(110,0)(120,2)(130,1)(140,0)(150,1)(160,0)};
\addplot[gl] coordinates {(0,10)(4,20)(8,35)(12,55)(16,80)(20,110)(24,90)(28,130)(32,170)(36,150)(40,190)(44,230)(48,200)(52,170)(56,200)(60,160)(66,130)(72,150)(78,120)(84,100)(90,120)(96,90)(102,110)(110,80)(120,100)(130,120)(140,100)(150,130)(160,160)(166,150)};
\addplot[gl] coordinates {(0,10)(5,60)(10,180)(15,350)(20,600)(25,800)(30,700)(35,550)(40,650)(45,500)(50,400)(55,450)(60,350)(65,400)(70,300)(80,350)(90,420)(100,500)(110,600)(120,550)(130,700)(140,650)(150,800)(160,900)(166,850)};
\addplot[gl] coordinates {(0,10)(3,16)(6,25)(9,38)(12,32)(15,45)(18,60)(21,52)(24,70)(27,85)(30,75)(33,95)(36,80)(39,65)(42,75)(45,60)};
% ---- highlighted series ----
\addplot[color=skpink, line width=2.2pt, line join=round, no markers] coordinates {(0,19)(1.4,58)(3,111)(6.3,220)(8.7,380)(11.9,590)(13.5,610)(15,560)(16.8,480)(18.5,380)(20,280)(23,150)(26.5,93)(28,98)(30.5,100)(34,100)(38.6,100)(40,93)(41.8,100)(44,93)(46.7,82)(48,70)(50,43)(53,35)(56,28)(59,20)(61,13)(63.6,9.3)(68.5,9.1)(72.6,8.6)(75.7,6.6)(78,7.5)(80,14)(83.8,26)(86,24)(88.7,20)(92,17)(96,20)(98.4,38)(102.4,46)(104.8,38)(107,45)(113,46)(117,42)(122,45)(126.7,41)(131,47)(134.7,54)(138.8,51)(142.8,54)(145,42)(151,42)(155.7,57)(160,51)(163,28)(166,31)(169.5,34)(172.7,38)(174,43)(176,87)(177.5,118)(179,190)(183,280)(188,340)(192,330)};
\addplot[color=eugreen, line width=2.2pt, line join=round, no markers] coordinates {(0,10)(1.5,20)(3,46)(5,90)(7.9,177)(10,330)(12.7,720)(16,1440)(17.5,2200)(20,4300)(24,9300)(28,16000)(32,23700)(36,27900)(40,28600)(43,27500)(46.7,25300)(51.5,23700)(56,18000)(60,16000)(64,13900)(68,11000)(72.5,8700)(76,7200)(80.6,5800)(84,5000)(88.6,4400)(92,4200)(96.8,3900)(100,3600)(104.8,3400)(108,3700)(113,3900)(120,4000)(129,4300)(133,4200)(137,3900)(141,4100)(145,4600)(149,5400)(153,6500)(157,7800)(161,9300)(165,10500)(169.5,11700)(173,13000)(177.6,15500)(181,16500)(184,18500)(188.7,19700)};
\addplot[color=usblue, line width=2.2pt, line join=round, no markers] coordinates {(0,10)(1.4,26)(3,45)(5.4,110)(8,250)(10,400)(12.7,670)(14.4,1140)(17,2500)(20,5800)(22,9000)(25,15000)(28,21000)(31,26000)(35,29500)(38,31000)(40,31000)(43,30000)(46,28500)(50,28500)(54,28800)(57,29900)(61,29000)(65,27000)(71,23700)(75,22500)(80,22500)(84,21500)(87,20500)(92,22000)(96,20500)(100,19600)(104,21000)(108,23800)(112,28500)(116,35000)(120,43000)(124,50000)(129,57000)(134,63000)(140,67000)(145,66500)(149,64000)(153,60000)(157,56500)(161,53700)(166,51000)(171,44500)(175,41500)(178,40500)(181,40500)};
% end dots and labels
\addplot[only marks, mark=*, mark size=2.6pt, color=usblue] coordinates {(181,40500)} node[anchor=west, xshift=2pt, font=\fontsize{11}{13}\selectfont, text=usblue] {United States};
\addplot[only marks, mark=*, mark size=2.6pt, color=eugreen] coordinates {(188.7,19700)} node[anchor=west, xshift=2pt, font=\fontsize{11}{13}\selectfont, text=eugreen!85!black] {European Union};
\addplot[only marks, mark=*, mark size=2.6pt, color=skpink] coordinates {(192,330)} node[anchor=west, xshift=2pt, font=\fontsize{11}{13}\selectfont, text=skpink] {South Korea};
\end{axis}
\node[anchor=base west, inner sep=0pt, font=\fontsize{10.6}{12}\selectfont, text=ticktxt] at (50.7,3.75) {Number of days since 10 average daily cases first recorded};
\pgfresetboundingbox
\path (0,0) rectangle (798.75,399.75);
\end{tikzpicture}
\end{document}
